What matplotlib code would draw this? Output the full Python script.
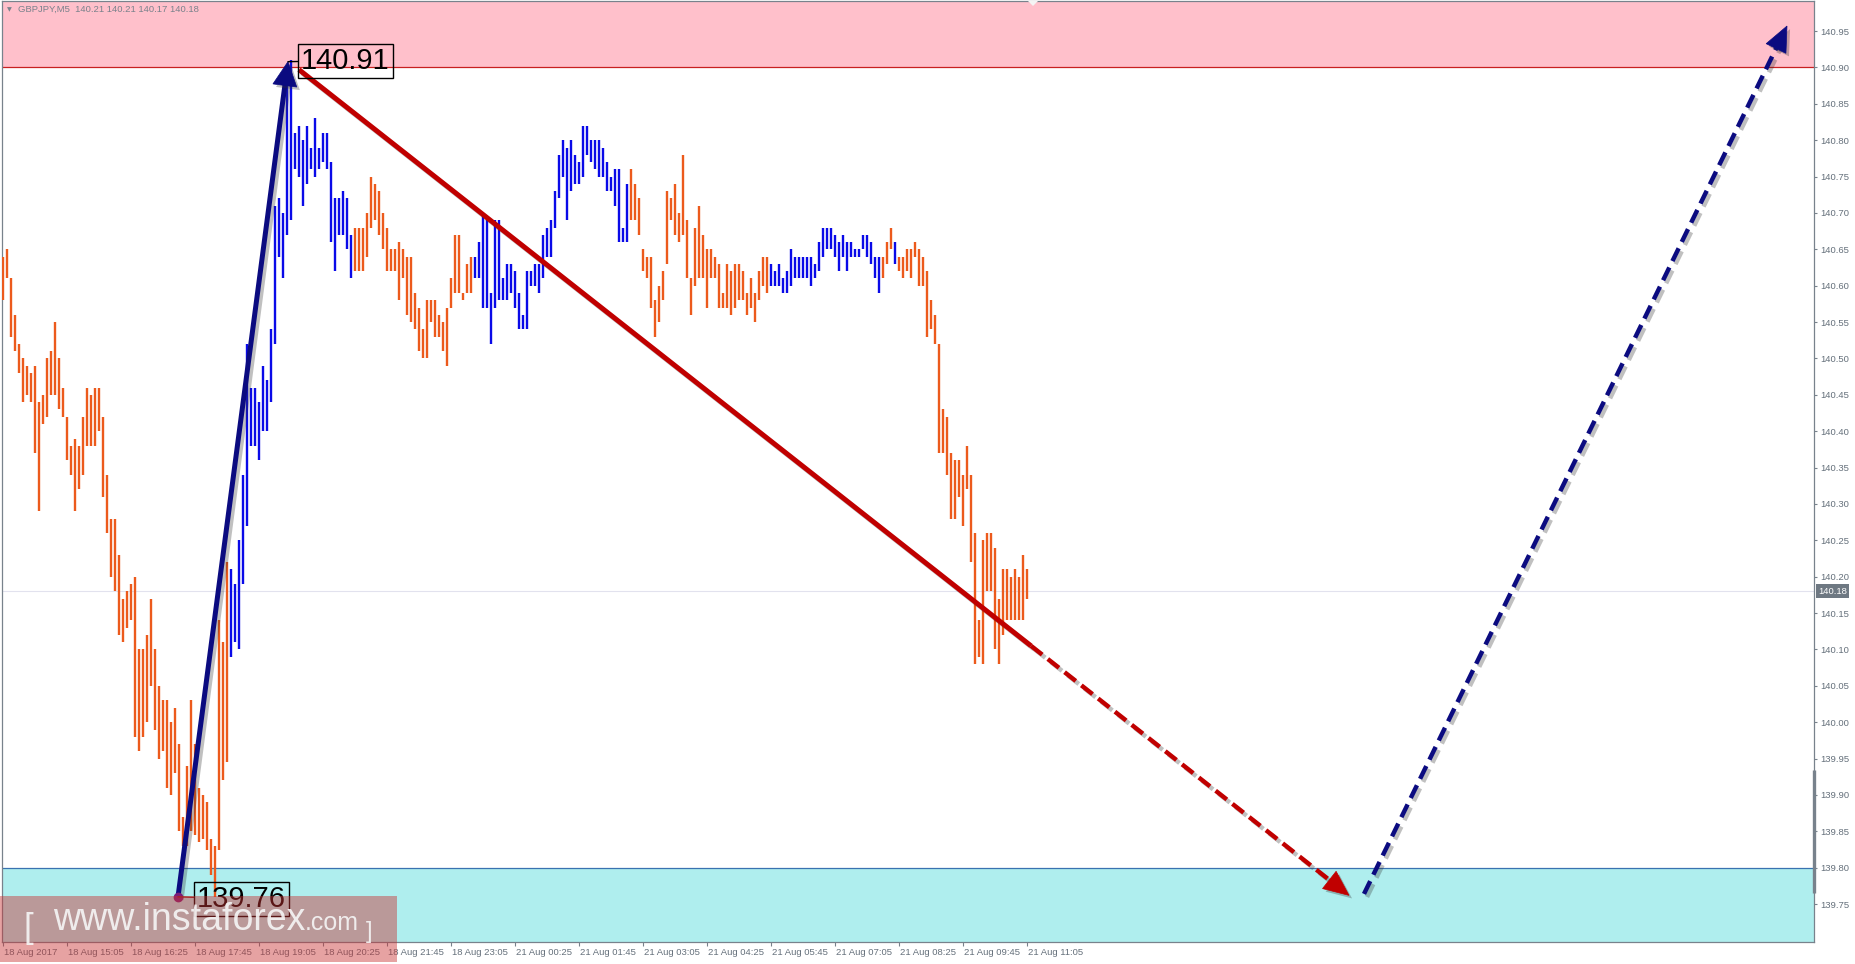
import matplotlib
matplotlib.use("Agg")
import numpy as np
import matplotlib.pyplot as plt
import matplotlib.patheffects as pe
from matplotlib.patches import Polygon, Rectangle
from matplotlib.transforms import blended_transform_factory, IdentityTransform

plt.rcParams['font.family'] = ['Liberation Sans', 'DejaVu Sans']

# ---- GBPJPY M5 bars (high / low), 18 Aug 13:45 .. 21 Aug 11:05 ----
highs = [
    140.64, 140.65, 140.61, 140.56, 140.52, 140.50, 140.49, 140.48, 140.49, 140.44,
    140.45, 140.50, 140.51, 140.55, 140.50, 140.46, 140.42, 140.38, 140.39, 140.38,
    140.42, 140.46, 140.45, 140.46, 140.46, 140.42, 140.34, 140.28, 140.28, 140.23,
    140.17, 140.18, 140.19, 140.20, 140.10, 140.10, 140.12, 140.17, 140.10, 140.05,
    140.03, 140.03, 140.00, 140.02, 139.97, 139.87, 139.94, 140.03, 139.97, 139.91,
    139.90, 139.89, 139.84, 139.83, 140.14, 140.11, 140.22, 140.21, 140.19, 140.25,
    140.34, 140.52, 140.46, 140.46, 140.44, 140.49, 140.47, 140.54, 140.71, 140.72,
    140.70, 140.88, 140.91, 140.81, 140.82, 140.80, 140.82, 140.79, 140.83, 140.79,
    140.81, 140.81, 140.77, 140.72, 140.72, 140.73, 140.72, 140.67, 140.68, 140.68,
    140.68, 140.70, 140.75, 140.74, 140.73, 140.70, 140.68, 140.65, 140.65, 140.66,
    140.65, 140.64, 140.64, 140.59, 140.57, 140.54, 140.58, 140.58, 140.58, 140.56,
    140.55, 140.57, 140.61, 140.67, 140.67, 140.59, 140.63, 140.64, 140.64, 140.66,
    140.70, 140.69, 140.59, 140.69, 140.69, 140.61, 140.63, 140.63, 140.62, 140.59,
    140.56, 140.62, 140.62, 140.63, 140.63, 140.67, 140.68, 140.69, 140.73, 140.78,
    140.80, 140.79, 140.80, 140.78, 140.77, 140.82, 140.82, 140.80, 140.80, 140.80,
    140.79, 140.77, 140.75, 140.76, 140.76, 140.68, 140.74, 140.76, 140.74, 140.72,
    140.65, 140.64, 140.64, 140.58, 140.60, 140.62, 140.73, 140.72, 140.74, 140.70,
    140.78, 140.69, 140.61, 140.68, 140.71, 140.67, 140.65, 140.65, 140.64, 140.63,
    140.59, 140.63, 140.62, 140.63, 140.63, 140.62, 140.59, 140.61, 140.59, 140.62,
    140.64, 140.64, 140.63, 140.62, 140.63, 140.61, 140.62, 140.65, 140.64, 140.64,
    140.64, 140.64, 140.64, 140.63, 140.66, 140.68, 140.68, 140.68, 140.67, 140.66,
    140.67, 140.66, 140.66, 140.65, 140.65, 140.67, 140.67, 140.66, 140.64, 140.64,
    140.64, 140.66, 140.68, 140.66, 140.64, 140.64, 140.65, 140.65, 140.66, 140.65,
    140.64, 140.62, 140.58, 140.56, 140.52, 140.43, 140.42, 140.37, 140.36, 140.36,
    140.34, 140.38, 140.34, 140.26, 140.14, 140.25, 140.26, 140.26, 140.24, 140.17,
    140.21, 140.21, 140.20, 140.21, 140.20, 140.23, 140.21]
lows = [
    140.58, 140.61, 140.53, 140.51, 140.48, 140.44, 140.45, 140.44, 140.37, 140.29,
    140.41, 140.42, 140.45, 140.45, 140.43, 140.42, 140.36, 140.34, 140.29, 140.32,
    140.34, 140.38, 140.38, 140.38, 140.40, 140.31, 140.26, 140.20, 140.18, 140.12,
    140.11, 140.13, 140.14, 139.98, 139.96, 139.98, 140.00, 140.05, 139.99, 139.95,
    139.96, 139.91, 139.90, 139.93, 139.85, 139.83, 139.83, 139.85, 139.845, 139.835,
    139.84, 139.825, 139.79, 139.76, 139.825, 139.92, 139.945, 140.09, 140.11, 140.10,
    140.19, 140.27, 140.38, 140.38, 140.36, 140.40, 140.40, 140.44, 140.52, 140.64,
    140.61, 140.67, 140.69, 140.76, 140.75, 140.71, 140.74, 140.76, 140.75, 140.76,
    140.77, 140.76, 140.66, 140.62, 140.67, 140.67, 140.65, 140.61, 140.62, 140.62,
    140.62, 140.64, 140.68, 140.69, 140.67, 140.65, 140.62, 140.62, 140.62, 140.58,
    140.61, 140.56, 140.55, 140.54, 140.51, 140.50, 140.50, 140.55, 140.53, 140.53,
    140.51, 140.49, 140.57, 140.59, 140.59, 140.58, 140.59, 140.59, 140.61, 140.61,
    140.57, 140.57, 140.52, 140.57, 140.58, 140.58, 140.58, 140.59, 140.57, 140.54,
    140.54, 140.54, 140.60, 140.60, 140.59, 140.61, 140.64, 140.64, 140.68, 140.72,
    140.75, 140.69, 140.73, 140.74, 140.74, 140.75, 140.78, 140.77, 140.76, 140.75,
    140.75, 140.73, 140.73, 140.71, 140.66, 140.66, 140.66, 140.69, 140.69, 140.67,
    140.62, 140.61, 140.57, 140.53, 140.55, 140.58, 140.63, 140.69, 140.67, 140.66,
    140.67, 140.61, 140.56, 140.60, 140.61, 140.61, 140.57, 140.61, 140.61, 140.57,
    140.57, 140.57, 140.56, 140.57, 140.58, 140.58, 140.56, 140.57, 140.55, 140.58,
    140.60, 140.59, 140.60, 140.60, 140.60, 140.59, 140.59, 140.60, 140.61, 140.61,
    140.61, 140.61, 140.60, 140.61, 140.62, 140.64, 140.65, 140.65, 140.64, 140.62,
    140.64, 140.62, 140.64, 140.64, 140.64, 140.65, 140.64, 140.63, 140.61, 140.59,
    140.61, 140.63, 140.65, 140.63, 140.62, 140.61, 140.62, 140.61, 140.64, 140.60,
    140.60, 140.53, 140.54, 140.52, 140.37, 140.37, 140.34, 140.28, 140.28, 140.31,
    140.27, 140.32, 140.22, 140.08, 140.09, 140.08, 140.18, 140.18, 140.10, 140.08,
    140.12, 140.14, 140.14, 140.14, 140.14, 140.14, 140.17]
# bar numbers drawn in blue (wave-up segments), the rest orange
blue_ranges = [(58, 88), (119, 157), (193, 220), (224, 224)]

last_ohlc = [140.21, 140.21, 140.17, 140.18]
symbol = "GBPJPY,M5"

time_labels = ["18 Aug 2017", "18 Aug 15:05", "18 Aug 16:25", "18 Aug 17:45", "18 Aug 19:05",
               "18 Aug 20:25", "18 Aug 21:45", "18 Aug 23:05", "21 Aug 00:25", "21 Aug 01:45",
               "21 Aug 03:05", "21 Aug 04:25", "21 Aug 05:45", "21 Aug 07:05", "21 Aug 08:25",
               "21 Aug 09:45", "21 Aug 11:05"]
label_every = 16

# zones
sell_zone = 140.90   # pink above
buy_zone = 139.80    # cyan below

# wave points (bar number, price)
up1_bars, up1_prices = [44.75, 72.25], [139.76, 140.908]
down_bars, down_prices = [75.0, 258.0, 337.5], [140.897, 140.105, 139.762]
up2_bars, up2_prices = [341.25, 447.0], [139.764, 140.957]

ORANGE = "#EC5A1C"
BLUE = "#0A0AE8"
NAVY = "#0B0B80"
DRED = "#C00000"
GREY = "#65707B"

W, H = 1856, 964
fig = plt.figure(figsize=(W / 100, H / 100), dpi=100)
fig.patch.set_facecolor("white")
ax = fig.add_axes([2 / W, 1 - 942 / H, 1812 / W, 941 / H])
ax.set_xlim(0.75, 453.75)
ax.set_ylim(139.6979, 140.9914)
ax.set_facecolor("white")

# zones + price line
ax.axhspan(sell_zone, 141.2, fc="#FFC0CB", ec="none", zorder=0)
ax.axhline(sell_zone, color="#C82020", lw=0.9, zorder=1)
ax.axhspan(139.5, buy_zone, fc="#AFEEEE", ec="none", zorder=0)
ax.axhline(buy_zone, color="#3A72B0", lw=0.9, zorder=1)
ax.axhline(last_ohlc[3], color="#E2E2EE", lw=0.8, zorder=1)

# bars
idx = np.arange(1, len(highs) + 1)
cols = [BLUE if any(a <= i <= b for a, b in blue_ranges) else ORANGE for i in idx]
ax.vlines(idx, lows, highs, colors=cols, lw=1.7, zorder=3)

shadow = [pe.SimpleLineShadow(offset=(2.2, -2.2), shadow_color="#303030", alpha=0.3), pe.Normal()]
pshadow = [pe.SimplePatchShadow(offset=(2.2, -2.2), shadow_rgbFace="#303030", alpha=0.3), pe.Normal()]


def head(x0, y0, x1, y1, color, L=25, wd=22):
    """arrow head (pixel sized) at (x1,y1); returns data point of its base"""
    p0 = ax.transData.transform((x0, y0))
    p1 = ax.transData.transform((x1, y1))
    d = (p1 - p0) / np.hypot(*(p1 - p0))
    n = np.array([-d[1], d[0]])
    base = p1 - d * L
    pts = [p1, base + n * wd / 2, base - n * wd / 2]
    ax.add_patch(Polygon(pts, closed=True, fc=color, ec=color, lw=0.5,
                         transform=IdentityTransform(), zorder=6, path_effects=pshadow))
    bb = ax.transData.inverted().transform(p1 - d * L * 0.7)
    return bb


# solid navy up-wave
bx, by = head(up1_bars[0], up1_prices[0], up1_bars[1], up1_prices[1], NAVY, L=24, wd=24)
ax.plot([up1_bars[0], bx], [up1_prices[0], by], color=NAVY, lw=3.6, zorder=5,
        solid_capstyle="butt", path_effects=shadow)
# red down-wave, solid then dashed projection
ax.plot(down_bars[:2], down_prices[:2], color=DRED, lw=3.6, zorder=5,
        solid_capstyle="butt", path_effects=shadow)
bx, by = head(down_bars[1], down_prices[1], down_bars[2], down_prices[2], DRED)
ax.plot([down_bars[1], bx], [down_prices[1], by], color=DRED, lw=3.2, zorder=5,
        ls=(0, (3.2, 1.6)), dash_capstyle="butt", path_effects=shadow)
# navy dashed projection
bx, by = head(up2_bars[0], up2_prices[0], up2_bars[1], up2_prices[1], NAVY)
ax.plot([up2_bars[0], bx], [up2_prices[0], by], color=NAVY, lw=3.2, zorder=5,
        ls=(0, (3.2, 1.6)), dash_capstyle="butt", path_effects=shadow)

# pivot labels
ax.plot(up1_bars[0], up1_prices[0], "o", ms=6, color="#7A1E78", zorder=7)
ax.annotate(f"{up1_prices[0]:.2f}", xy=(up1_bars[0], up1_prices[0]), xytext=(19, -2),
            textcoords="offset pixels", ha="left", va="center", fontsize=21, color="black",
            zorder=7, bbox=dict(boxstyle="square,pad=0.1", fc="none", ec="black", lw=1),
            arrowprops=dict(arrowstyle="-", color="#8B1A1A", lw=1, shrinkA=0, shrinkB=0))
ax.annotate(f"{up1_prices[1]:.2f}", xy=(up1_bars[1], up1_prices[1]), xytext=(13, 1),
            textcoords="offset pixels", ha="left", va="center", fontsize=21, color="black",
            zorder=7, bbox=dict(boxstyle="square,pad=0.1", fc="none", ec="black", lw=1),
            arrowprops=dict(arrowstyle="-", color="black", lw=1, shrinkA=0, shrinkB=0))

# axes styling
for s in ax.spines.values():
    s.set_color("#78828C")
    s.set_linewidth(0.9)
ax.yaxis.tick_right()
yt = np.round(np.arange(139.75, 140.951, 0.05), 2)
ax.set_yticks(yt)
ax.set_yticklabels([f"{v:.2f}" for v in yt])
ax.tick_params(axis="y", length=2.5, width=0.8, pad=2, labelsize=6.8, colors="#78828C",
               labelcolor=GREY)
xt = [1 + k * label_every for k in range(len(time_labels))]
ax.set_xticks(xt)
ax.set_xticklabels(time_labels, ha="left")
ax.tick_params(axis="x", length=3, width=0.8, pad=1.5, labelsize=6.8, colors="#78828C",
               labelcolor=GREY)
for t in ax.get_xticklabels():
    t.set_x(0)
import matplotlib.transforms as mtrans
off = mtrans.ScaledTranslation(1 / 100, 0, fig.dpi_scale_trans)
for t in ax.get_xticklabels():
    t.set_transform(t.get_transform() + off)

# current price tag + scroll mark on the price scale
bt = blended_transform_factory(ax.transAxes, ax.transData)
ax.annotate(f"{last_ohlc[3]:.2f}", xy=(1, last_ohlc[3]), xycoords=bt, xytext=(4, 0),
            textcoords="offset pixels", ha="left", va="center", fontsize=6.8, color="white",
            annotation_clip=False, zorder=8,
            bbox=dict(boxstyle="square,pad=0.25", fc="#6E7882", ec="none"))
ax.plot([1, 1], [139.765, 139.935], transform=bt, color="#78828C", lw=2.4,
        solid_capstyle="butt", clip_on=False, zorder=8)

# header
fig.text(7 / W, 1 - 9.5 / H, "▼", fontsize=4.5, color="#7A828C", va="center",
         family="DejaVu Sans")
fig.text(18 / W, 1 - 9.5 / H, symbol + "  " + " ".join(f"{v:.2f}" for v in last_ohlc),
         fontsize=6.8, color="#7A828C", va="center")
fig.patches.append(Polygon([[1028 / W, 1 - 1 / H], [1038 / W, 1 - 1 / H], [1033 / W, 1 - 6 / H]],
                           closed=True, transform=fig.transFigure, fc="#F4F4F4", ec="none",
                           zorder=9))

# watermark
fig.patches.append(Rectangle((0, 1 - 962 / H), 397 / W, 66 / H, transform=fig.transFigure,
                             fc="#C83232", ec="none", alpha=0.45, zorder=10))
wm = dict(color="#F6F6F6", alpha=0.9, va="baseline", zorder=11)
fig.text(24 / W, 1 - 938 / H, "[", fontsize=25, **wm)
fig.text(53 / W, 1 - 930 / H, "www.instaforex", fontsize=27, **wm)
fig.text(305 / W, 1 - 930 / H, ".com", fontsize=18, **wm)
fig.text(366 / W, 1 - 938 / H, "]", fontsize=17, **wm)

fig.savefig("out.png", dpi=100, facecolor="white")
